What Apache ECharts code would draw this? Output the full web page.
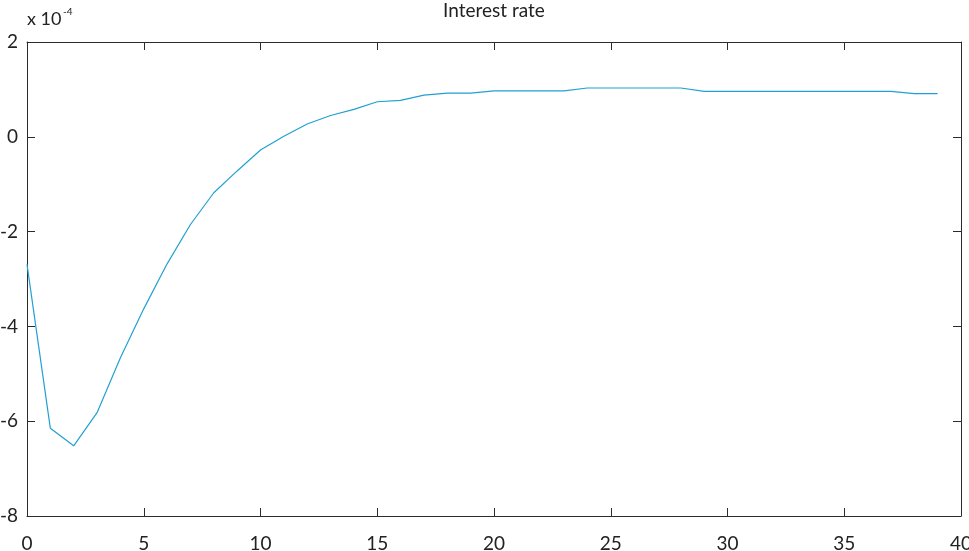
<!DOCTYPE html>
<html>
<head>
<meta charset="utf-8">
<script src="https://cdn.jsdelivr.net/npm/echarts@6/dist/echarts.min.js"></script>
<style>
  html, body { margin: 0; padding: 0; background: #fff; }
  #chart { width: 969px; height: 551px; }
</style>
</head>
<body>
<div id="chart"></div>
<script>
// Impulse response of the interest rate, in units of 1e-4
const periods = [0, 1, 2, 3, 4, 5, 6, 7, 8, 9,
  10, 11, 12, 13, 14, 15, 16, 17, 18, 19,
  20, 21, 22, 23, 24, 25, 26, 27, 28, 29,
  30, 31, 32, 33, 34, 35, 36, 37, 38, 39];
const rateValues = [-2.69, -6.15, -6.52, -5.82, -4.66, -3.63, -2.68, -1.85, -1.18, -0.72,
  -0.28, 0.01, 0.27, 0.45, 0.58, 0.74, 0.77, 0.88, 0.92, 0.92,
  0.97, 0.97, 0.97, 0.97, 1.03, 1.03, 1.03, 1.03, 1.03, 0.96,
  0.96, 0.96, 0.96, 0.96, 0.96, 0.96, 0.96, 0.96, 0.91, 0.91];
const xTicks = [0, 5, 10, 15, 20, 25, 30, 35, 40];
const yTicks = [-8, -6, -4, -2, 0, 2];
const titleText = 'Interest rate';
const scaleBase = 'x 10';
const scaleExp = '-4';

const FONT = 'Lato';
const AXIS_COLOR = '#2b2b2b';
const LINE_COLOR = '#22a0d2';

const chart = echarts.init(document.getElementById('chart'), null, { renderer: 'canvas' });

const axisLineStyle = { show: true, onZero: false, lineStyle: { color: AXIS_COLOR, width: 1 } };
const tickStyle = { show: true, inside: true, length: 8, lineStyle: { color: AXIS_COLOR, width: 1 } };

chart.setOption({
  animation: false,
  backgroundColor: '#ffffff',
  grid: { left: 27, right: 8, top: 42, bottom: 35, containLabel: false, outerBoundsMode: 'none' },
  graphic: [
    {
      type: 'text',
      x: 494,
      y: 1,
      style: { text: titleText, font: '19px ' + FONT, fill: '#222', textAlign: 'center', textVerticalAlign: 'top' }
    },
    {
      type: 'text',
      x: 27,
      y: 10,
      style: { text: scaleBase, font: '18px ' + FONT, fill: '#222', textVerticalAlign: 'top' }
    },
    {
      type: 'text',
      x: 63,
      y: 7,
      style: { text: scaleExp, font: '10px ' + FONT, fill: '#222', textVerticalAlign: 'top' }
    }
  ],
  xAxis: [
    {
      type: 'value', position: 'bottom',
      min: xTicks[0], max: xTicks[xTicks.length - 1], interval: xTicks[1] - xTicks[0],
      axisLine: axisLineStyle, axisTick: tickStyle, splitLine: { show: false },
      axisLabel: { show: true, margin: 18, color: '#222', fontFamily: FONT, fontSize: 19 }
    },
    {
      type: 'value', position: 'top',
      min: xTicks[0], max: xTicks[xTicks.length - 1], interval: xTicks[1] - xTicks[0],
      axisLine: axisLineStyle, axisTick: tickStyle, splitLine: { show: false },
      axisLabel: { show: false }
    }
  ],
  yAxis: [
    {
      type: 'value', position: 'left',
      min: yTicks[0], max: yTicks[yTicks.length - 1], interval: yTicks[1] - yTicks[0],
      axisLine: axisLineStyle, axisTick: tickStyle, splitLine: { show: false },
      axisLabel: { show: true, margin: 9, color: '#222', fontFamily: FONT, fontSize: 19 }
    },
    {
      type: 'value', position: 'right',
      min: yTicks[0], max: yTicks[yTicks.length - 1], interval: yTicks[1] - yTicks[0],
      axisLine: axisLineStyle, axisTick: tickStyle, splitLine: { show: false },
      axisLabel: { show: false }
    }
  ],
  series: [
    {
      type: 'line',
      xAxisIndex: 0,
      yAxisIndex: 0,
      data: periods.map((p, i) => [p, rateValues[i]]),
      showSymbol: false,
      symbol: 'none',
      lineStyle: { color: LINE_COLOR, width: 1.2 },
      silent: true
    }
  ]
});
</script>
</body>
</html>
